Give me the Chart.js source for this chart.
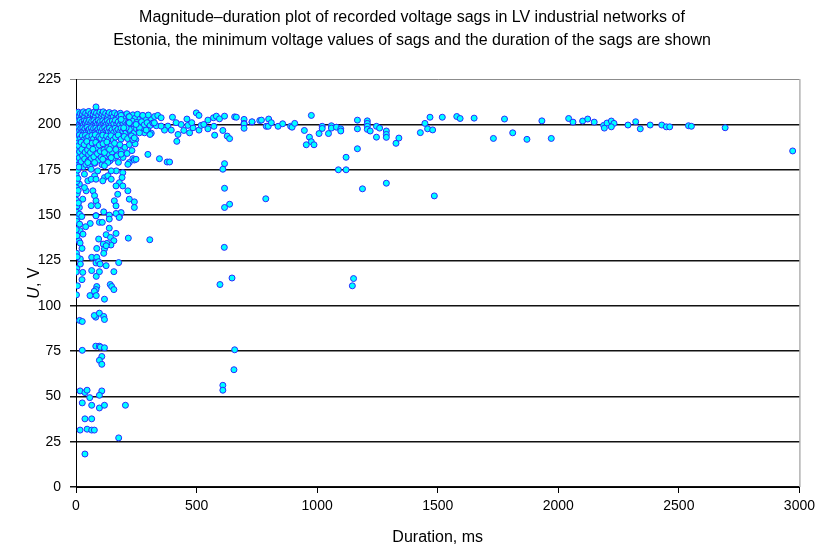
<!DOCTYPE html>
<html>
<head>
<meta charset="utf-8">
<script src="https://cdn.jsdelivr.net/npm/chart.js@4.4.1/dist/chart.umd.min.js"></script>
<style>
  html, body { margin: 0; padding: 0; background: #fff; }
</style>
</head>
<body>
<canvas id="sags" width="820" height="555"></canvas>
<script>
// Voltage sags: [duration ms, minimum voltage V]

const titleLines = [
  'Magnitude\u2013duration plot of recorded voltage sags in LV industrial networks of',
  'Estonia, the minimum voltage values of sags and the duration of the sags are shown'
];
const xTickStep = 500;
const yTickStep = 25;

// dense band near nominal voltage, short sags
const topBand = [
  [2,206.5],[6,205],[10,206.8],[14,204.5],[18,206],[22,203.5],[26,205.8],[31,207],[35,204],[40,206.2],
  [44,202.8],[49,205.5],[53,207.2],[58,204.2],[62,206],[67,203],[71,205.6],[76,206.9],[80,204],[85,206.3],
  [90,202.5],[94,205.2],[99,206.8],[104,203.8],[108,205.9],[113,207],[118,204.3],[123,206.1],[128,202.9],[133,205.4],
  [138,206.6],[143,203.5],[149,205.8],[154,204.1],[160,206.4],[166,203.2],[172,205.5],[178,204],[184,206.2],[190,202.7],
  [197,205],[204,203.6],[211,205.9],[219,204.2],[227,202.5],[236,205.3],[245,203.4],[255,205.6],[265,202.9],[276,204.8],
  [288,203.1],[300,205.2],[313,202.6],[326,204.4],[83,209.7],
  [1,202],[5,200.5],[9,201.8],[13,199.8],[17,202.3],[21,200.2],[25,201.5],[29,199.5],[34,202],[38,200.8],
  [43,201.9],[47,199.9],[52,201.2],[56,202.4],[61,200.3],[65,201.7],[70,199.6],[74,202.1],[79,200.6],[83,201.4],
  [88,199.8],[92,202.2],[97,200.9],[101,201.6],[106,199.7],[111,202],[115,200.4],[120,201.3],[125,199.9],[130,202.1],
  [135,200.7],[140,201.5],[146,199.6],[151,201.9],[157,200.5],[163,202.2],[169,200.1],[175,201.4],[182,199.8],[188,201.8],
  [195,200.3],[202,201.6],[209,199.7],[217,201.2],[225,200.2],[234,201.8],[243,199.6],[252,201.1],[262,200],[272,201.5],
  [283,199.8],[295,201],[307,199.4],[319,200.8],[333,199.3],
  [2,197.5],[7,196.2],[11,198.3],[15,196.8],[20,197.9],[24,195.8],[28,198.1],[33,196.5],[37,197.7],[42,195.6],
  [46,198.4],[51,196.9],[55,197.4],[60,195.9],[64,198.2],[69,196.4],[73,197.8],[78,195.7],[82,198],[87,196.6],
  [91,197.3],[96,195.8],[100,198.1],[105,196.2],[110,197.6],[114,195.5],[119,198.2],[124,196.7],[129,197.4],[134,195.9],
  [139,198],[145,196.3],[150,197.2],[156,195.6],[162,197.9],[168,196.5],[174,197.3],[181,195.8],[187,198],[194,196.4],
  [201,197.5],[208,195.7],[216,197.8],[224,196.2],[233,197.3],[242,195.5],[251,197.6],[261,196],[272,197.2],[284,195.4],
  [298,196.8],[312,195.2],
  [3,193.5],[9,191.8],[14,194.2],[19,192.4],[26,193.8],[32,191.5],[39,194],[45,192.6],[52,193.3],[59,191.2],
  [66,193.9],[73,192.1],[80,194.3],[88,191.6],[95,193.2],[103,192.4],[111,194.1],[119,191.3],[127,193.6],[136,192],
  [145,193.8],[154,191.4],[164,193],[175,194.2],[187,191.9],[200,193.4],[214,192.2],[230,193.7],[248,191.7]
];

// short sags, 175-192 V
const upperShort = [
  [2,189.5],[6,186.8],[4,183.2],[8,180.1],[3,177.4],[11,188.3],[15,185],[13,181.6],[17,178.4],[21,190.2],
  [24,186.3],[27,182.8],[22,179.5],[30,176.6],[34,188.9],[38,184.7],[36,181],[41,177.9],[45,190.6],[48,186],
  [52,183.3],[50,179.8],[56,188],[60,184.5],[63,181.2],[58,176.9],[67,189.7],[71,186.5],[74,182.2],[78,178.6],
  [82,190.1],[86,187.2],[89,183.9],[93,180.4],[97,188.6],[101,185.3],[104,181.9],[108,177.8],[112,189.4],[116,186],
  [120,182.5],[124,179.2],[128,190.3],[132,187.1],[137,183.6],[141,180],[146,188.2],[150,184.8],[155,181.4],[160,189.6],
  [165,186.2],[170,182.7],[176,179.1],[182,188.8],[188,185.1],[195,181.8],[203,187.4],[212,184],[221,188.9],[232,185.6],
  [245,189.3],[70,186.3],[118,184.5],[139,186.3],[187,183.6],[146,181.7],[111,180.8],[132,179],[118,177.2],[77,179],
  [49,179]
];

// short sags, 145-176 V
const middleShort = [
  [194,173.4],[191,170.7],[180,167.9],[166,166.1],[194,166.1],[173,161.5],[215,163.4],[221,158.8],[242,157.3],[242,154.2],
  [159,157.9],[166,155.1],[187,151.4],[180,149],[90,174.4],[63,175.3],[35,172.6],[49,168.9],[77,171.7],[63,169.8],
  [83,169.8],[118,170.7],[111,168.9],[132,171.7],[70,163.4],[77,160.7],[83,157.9],[63,155.2],[90,155.2],[42,163.4],
  [35,165.2],[14,167.1],[146,169.8],[167,174.4],[146,174.4],[28,158.8],[14,154.2],[83,149.7],
  [1,172],[3,168.5],[2,165],[5,161.8],[1,158.3],[4,155],[2,151.6],[6,148.2],[8,170.2],[9,163.6],
  [10,156.7],[7,174.8],[12,176.5],[3,146.5]
];

// short sags, 100-150 V
const lowerShort = [
  [15,150.5],[24,149.2],[83,149.6],[115,151.8],[138,150],[138,147.8],[166,150.9],[179,148.7],[59,145.4],[40,143.6],
  [15,145],[17,141.4],[29,139.5],[12,135.9],[17,134.6],[25,131.6],[97,146],[109,146],[138,142.8],[125,139.2],
  [143,137.7],[157,135.9],[166,139.9],[145,133.5],[128,134.4],[113,134],[94,136.8],[86,131.6],[118,131.3],[115,128.9],
  [125,133.1],[18,125.8],[18,123],[65,126.7],[86,126.7],[83,123.6],[94,124.3],[100,123],[177,123.8],[125,122.1],
  [84,116.2],[65,119.4],[97,118.8],[28,118.4],[25,114.4],[157,118.8],[86,110.6],[83,108.9],[76,108],[58,105.6],
  [84,105.6],[118,103.6],[142,111.7],[148,110.6],[157,108.9],[217,137.3],
  [1,142],[4,138.6],[2,129],[5,127],[3,120.5],[1,118.6],[6,111],[2,106]
];

// deep sags below 100 V
const deepShort = [
  [15,91.9],[26,91.3],[82,93.7],[76,94.6],[97,95.9],[115,94.1],[118,92.4],[82,77.7],[97,77.7],[101,77.2],
  [118,76.8],[26,75.4],[107,72],[97,69.9],[107,67.7],[17,53],[37,52.1],[46,53.4],[57,49.3],[107,53],
  [97,50.6],[65,45.1],[97,43.6],[118,45.1],[205,45.1],[26,46.4],[37,37.6],[65,37.6],[17,31.4],[46,31.9],
  [65,31.4],[76,31.4],[177,27.1],[37,18.2]
];

// 200-800 ms
const midDuration = [
  [499,206.4],[510,205],[547,202.4],[570,203.7],[582,204.6],[595,203.1],[616,204.6],[658,204.2],[665,204],[697,202.8],
  [697,200.6],[730,201.3],[762,202.2],[609,196.7],[627,193.6],[637,192.2],[575,194.1],[572,199],[547,197.6],[510,196.9],
  [519,199.5],[485,198.2],[464,199.5],[471,195.4],[436,200],[447,196.7],[423,194.5],[418,190.7],[381,199.1],[395,196.9],
  [367,196.9],[353,199.1],[339,205],[353,203.7],[325,200.9],[307,194.5],[291,196.9],[277,205],[263,198.2],[263,195.4],
  [249,200],[236,191.7],[242,192.6],[221,204.3],[221,197.3],[221,200.9],[208,198.2],[187,205],[187,202.8],[198,198.2],
  [400,204],[415,201],[460,203],[480,201],[530,200],
  [298,183.5],[346,181.1],[378,179.3],[388,179.3],[221,179],[236,181.1],[242,180.4],[249,180.8],[215,178],
  [616,178.4],[609,175.3],[616,164.8],[637,156],[616,154.2],[306,136.4],[615,132.2],[597,111.7],[647,115.3],
  [658,75.7],[655,64.7],[609,56.1],[609,53.4],[787,159]
];

// long sags, over 700 ms
const longDuration = [
  [697,200.3],[697,197.9],[730,201.5],[769,202.4],[789,199],[799,203],[797,199],[810,201],[838,199],[857,200.4],
  [890,199],[896,198.5],[907,200.6],[976,205],[947,196.7],[968,193],[955,188.8],[976,190.5],[987,188.8],[1008,195],
  [1021,199],[1021,197.8],[1047,195],[1059,199.3],[1059,198],[1080,198.5],[1098,197.6],[1098,196.4],[1167,202.4],[1167,197.6],
  [1167,186.6],[1120,181.9],[1088,175],[1120,175],[1188,164.5],[1208,202],[1208,200.6],[1208,199],[1208,197.3],[1220,196.4],
  [1246,199],[1259,198],[1246,193],[1287,196.4],[1287,194.5],[1287,192.9],[1327,189.6],[1339,192.5],[1287,167.6],[1428,195.5],
  [1447,200.6],[1468,204],[1458,197.6],[1479,197],[1486,160.6],[1519,204],[1579,204.4],[1593,203.3],[1651,203.5],[1731,192.3],
  [1777,203],[1811,195.4],[1870,191.8],[1932,202],[1971,192.3],[2043,203.3],[2061,201.3],[2101,201.9],[2122,203],[2149,201.3],
  [2188,199.5],[2191,198],[2202,200.8],[2220,201.9],[2231,200.6],[2220,198.7],[2289,199.7],[2321,201.5],[2340,197.6],[2381,199.7],
  [2429,199.7],[2448,198.7],[2462,198.7],[2540,199.3],[2552,199],[2692,198.2],[2972,185.4],[1151,115],[1146,111]
];

const allSags = [...topBand, ...upperShort, ...middleShort, ...lowerShort, ...deepShort, ...midDuration, ...longDuration];

const FONT = '"Liberation Sans", Arial, sans-serif';

// italic "U" followed by ", V", rotated on the left
const yTitlePlugin = {
  id: 'yTitle',
  afterDraw(chart) {
    const { ctx, chartArea } = chart;
    const cy = (chartArea.top + chartArea.bottom) / 2;
    ctx.save();
    ctx.translate(35, cy);
    ctx.rotate(-Math.PI / 2);
    ctx.fillStyle = '#000';
    ctx.textBaseline = 'middle';
    ctx.textAlign = 'left';
    ctx.font = 'italic 16px ' + FONT;
    const w1 = ctx.measureText('U').width;
    ctx.font = '16px ' + FONT;
    const w2 = ctx.measureText(', V').width;
    const x0 = -(w1 + w2) / 2;
    ctx.font = 'italic 16px ' + FONT;
    ctx.fillText('U', x0, 0);
    ctx.font = '16px ' + FONT;
    ctx.fillText(', V', x0 + w1, 0);
    ctx.restore();
  }
};

// grey right edge of the plot frame
const framePlugin = {
  id: 'frame',
  beforeDatasetsDraw(chart) {
    const { ctx, chartArea } = chart;
    ctx.save();
    ctx.strokeStyle = '#8c8c8c';
    ctx.lineWidth = 1;
    ctx.beginPath();
    ctx.moveTo(chartArea.right + 0.5, chartArea.top);
    ctx.lineTo(chartArea.right + 0.5, chartArea.bottom);
    ctx.stroke();
    ctx.restore();
  }
};

new Chart(document.getElementById('sags'), {
  type: 'scatter',
  data: {
    datasets: [{
      label: 'Voltage sags',
      data: allSags.map(([ms, v]) => ({ x: ms, y: v })),
      backgroundColor: '#00ffff',
      borderColor: '#2a2aff',
      borderWidth: 1,
      pointRadius: 3,
      pointHoverRadius: 3
    }]
  },
  options: {
    responsive: false,
    animation: false,
    events: [],
    layout: { autoPadding: false, padding: { left: 24, right: 20, top: 0, bottom: 0 } },
    plugins: {
      legend: { display: false },
      tooltip: { enabled: false },
      title: {
        display: true,
        text: titleLines,
        color: '#000',
        font: { family: FONT, size: 16, weight: 'normal', lineHeight: 1.38 },
        padding: { top: 7, bottom: 28 }
      }
    },
    scales: {
      x: {
        type: 'linear',
        min: 0,
        max: 3000,
        afterFit: (s) => { s.height = 68; },
        ticks: {
          stepSize: xTickStep,
          color: '#000',
          padding: 5,
          maxRotation: 0,
          font: { family: FONT, size: 14 },
          callback: (v) => String(v)
        },
        grid: { drawOnChartArea: false, drawTicks: true, tickLength: 6, color: '#000' },
        border: { color: '#000', width: 1 },
        title: {
          display: true,
          text: 'Duration, ms',
          color: '#000',
          font: { family: FONT, size: 16 },
          padding: { top: 0, bottom: 8 }
        }
      },
      y: {
        type: 'linear',
        min: 0,
        max: 225,
        afterFit: (s) => { s.width = 52; },
        ticks: { stepSize: yTickStep, color: '#000', padding: 9, font: { family: FONT, size: 14 } },
        grid: {
          color: (c) => (c.tick && c.tick.value === 225 ? '#8c8c8c' : '#111'),
          tickLength: 6,
          lineWidth: (c) => (c.tick && c.tick.value === 225 ? 1 : 1.5)
        },
        border: { color: '#000', width: 1 }
      }
    }
  },
  plugins: [yTitlePlugin, framePlugin]
});
</script>
</body>
</html>
